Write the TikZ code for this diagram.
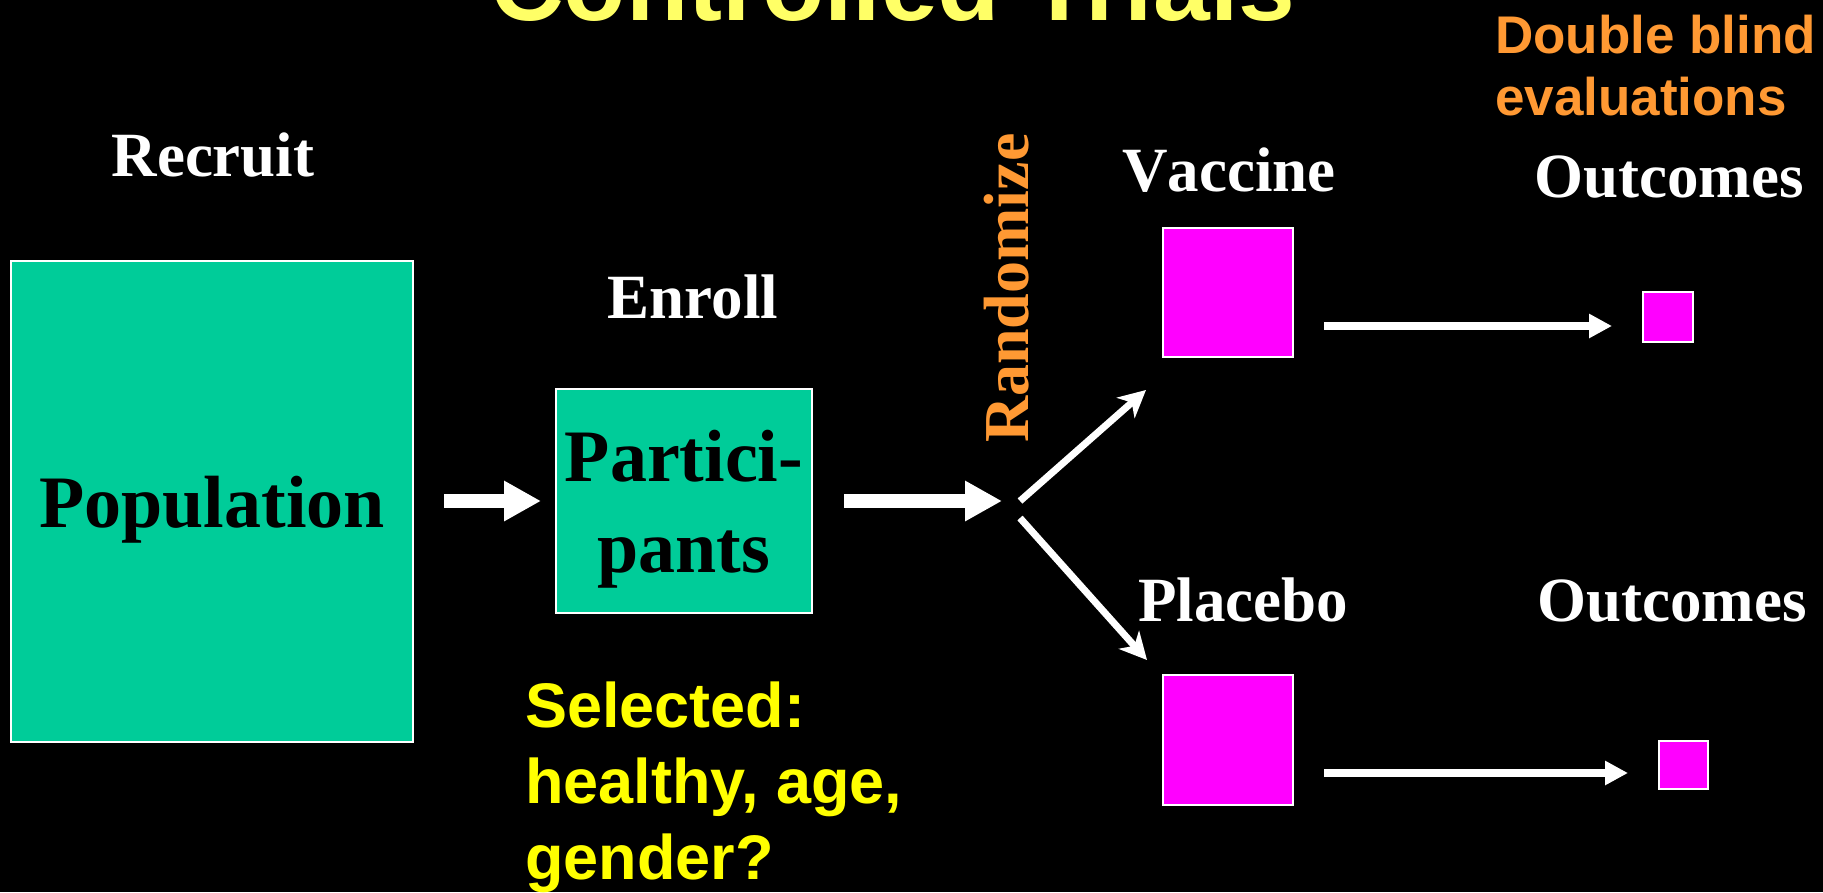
\documentclass[tikz,border=0pt]{standalone}
\usepackage{fontspec}
\setmainfont{Liberation Serif}
\newfontfamily\helv{Liberation Sans}
\newfontfamily\serifnokern[Kerning=Off]{Liberation Serif}
\usetikzlibrary{arrows.meta}
\definecolor{tealbg}{HTML}{00CC99}
\definecolor{magbg}{HTML}{FF00FF}
\definecolor{titleyel}{HTML}{FFFF66}
\definecolor{selyel}{HTML}{FFFF00}
\definecolor{orng}{HTML}{FF9933}
\tikzset{
  lbl/.style={text=white, font=\bfseries\fontsize{63}{70}\selectfont, inner sep=0pt, anchor=base},
  tealbox/.style={draw=white, line width=2pt, fill=tealbg, inner sep=0pt, text=black},
  magbox/.style={draw=white, line width=2pt, fill=magbg, inner sep=0pt},
  blockarrow/.style={white, line width=14pt, -{Triangle[length=37pt,width=38pt]}},
  diagarrow/.style={white, line width=7pt, -{Stealth[length=27pt,width=27pt,inset=8pt]}},
  outarrow/.style={white, line width=8pt, -{Triangle[length=23pt,width=23pt]}},
}
\begin{document}
\begin{tikzpicture}[x=1pt,y=-1pt]
\useasboundingbox (0,0) rectangle (1823,892);
\clip (0,0) rectangle (1823,892);
\fill[black] (0,0) rectangle (1823,892);

\node[anchor=base west, inner sep=0pt, text=titleyel, font=\helv\bfseries\fontsize{102}{110}\selectfont] (title) at (490,20) {Controlled Trials};
\node[anchor=base west, inner sep=0pt, align=left, text=orng, font=\helv\bfseries\fontsize{53}{62}\selectfont] (dbl) at (1495,115) {Double blind\\evaluations};

\node[tealbox, minimum width=402pt, minimum height=481pt, text height=53pt, text depth=0pt, font=\bfseries\fontsize{74}{80}\selectfont] (pop) at (212,501) {Population};
\node[tealbox, minimum width=256pt, minimum height=224pt, align=center, text depth=0pt, font=\bfseries\fontsize{74}{91}\selectfont] (part) at (684,501) {Partici-\\pants};

\node[magbox, minimum width=130pt, minimum height=129pt] (vacc) at (1228,292.5) {};
\node[magbox, minimum width=130pt, minimum height=130pt] (plac) at (1228,740) {};
\node[magbox, minimum width=50pt, minimum height=50pt] (out1) at (1668,317) {};
\node[magbox, minimum width=49pt, minimum height=48pt] (out2) at (1683.5,765) {};

\node[lbl] (recruit) at (213,176) {Recruit};
\node[lbl] (enroll) at (693,318) {Enroll};
\node[lbl, font=\serifnokern\bfseries\fontsize{63}{70}\selectfont] (vlab) at (1229,191) {Vaccine};
\node[lbl] (olab1) at (1669,197) {Outcomes};
\node[lbl] (plab) at (1243,621) {Placebo};
\node[lbl] (olab2) at (1672,621) {Outcomes};

\node[rotate=90, anchor=base west, inner sep=0pt, text=orng, font=\bfseries\fontsize{64}{70}\selectfont] (rand) at (1028,443) {Randomize};

\node[anchor=base west, inner sep=0pt, align=left, text=selyel, font=\helv\bfseries\fontsize{63}{76}\selectfont] (sel) at (525,879) {Selected:\\healthy, age,\\gender?};

\coordinate (fork) at (1002,501);
\coordinate (up0) at (1020,501);
\coordinate (up1) at (1146,390);
\coordinate (dn0) at (1020,518);
\coordinate (dn1) at (1147,660);
\coordinate (oa) at (0,326);
\coordinate (ob) at (0,773);

\draw[blockarrow, shorten <=30pt, shorten >=14pt] (pop) -- (part);
\draw[blockarrow, shorten <=31pt] (part) -- (fork);
\draw[diagarrow] (up0) -- (up1);
\draw[diagarrow] (dn0) -- (dn1);
\draw[outarrow, shorten <=30pt, shorten >=30pt] (vacc.east |- oa) -- (out1.west |- oa);
\draw[outarrow, shorten <=30pt, shorten >=30pt] (plac.east |- ob) -- (out2.west |- ob);
\end{tikzpicture}
\end{document}
